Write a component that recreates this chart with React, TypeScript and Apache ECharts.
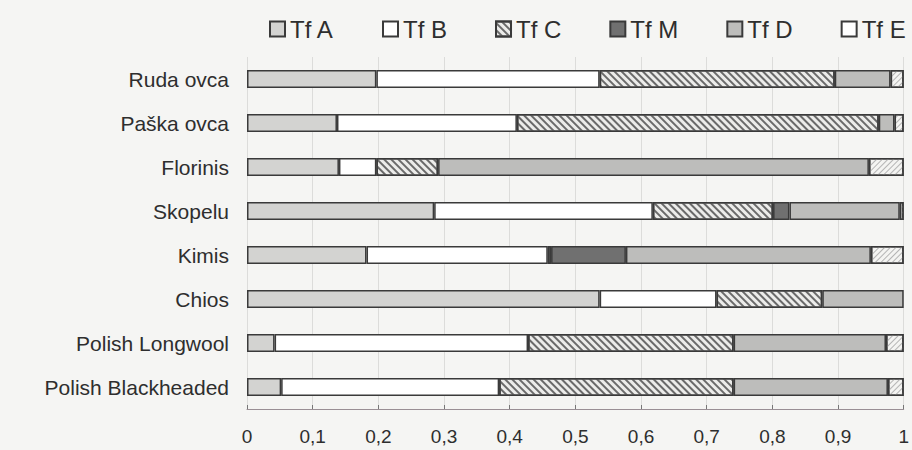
import React, { useEffect, useRef } from "react";
import * as echarts from "echarts";

const categories = [
  "Ruda ovca",
  "Paška ovca",
  "Florinis",
  "Skopelu",
  "Kimis",
  "Chios",
  "Polish Longwool",
  "Polish Blackheaded",
];
const seriesNames = ["Tf A", "Tf B", "Tf C", "Tf M", "Tf D", "Tf E"];
const tfA = [0.197, 0.137, 0.14, 0.285, 0.182, 0.537, 0.042, 0.052];
const tfB = [0.34, 0.274, 0.057, 0.333, 0.276, 0.178, 0.386, 0.332];
const tfC = [0.358, 0.551, 0.094, 0.183, 0.005, 0.161, 0.313, 0.357];
const tfM = [0, 0, 0, 0.025, 0.114, 0, 0, 0];
const tfD = [0.085, 0.024, 0.656, 0.168, 0.373, 0.124, 0.232, 0.235];
const tfE = [0.02, 0.014, 0.053, 0.006, 0.05, 0, 0.027, 0.024];
const values = [tfA, tfB, tfC, tfM, tfD, tfE];

const fills = ["#d3d3d1", "#ffffff", "#ececea", "#707070", "#bdbdbb", "#f4f4f2"];
const decals: any[] = [
  null,
  null,
  {
    symbol: "rect",
    symbolSize: 1,
    dashArrayX: [1, 0],
    dashArrayY: [1.1, 2.2],
    rotation: Math.PI / 4,
    color: "#6a6a6a",
  },
  null,
  null,
  {
    symbol: "rect",
    symbolSize: 1,
    dashArrayX: [1, 0],
    dashArrayY: [1, 2.6],
    rotation: -Math.PI / 4,
    color: "#b4b4b4",
  },
];

const FONT = "'Liberation Sans', Arial, Helvetica, sans-serif";

export default function App() {
  const ref = useRef<HTMLDivElement>(null);
  useEffect(() => {
    if (!ref.current) return;
    const chart = echarts.init(ref.current, null, { renderer: "svg" });
    chart.setOption({
      animation: false,
      backgroundColor: "#f5f5f3",
      aria: { enabled: false },
      legend: {
        data: seriesNames.map((n) =>
          n === "Tf E"
            ? { name: n, itemStyle: { color: "#ffffff", decal: "none" } }
            : n
        ),
        left: 264,
        top: 12,
        itemWidth: 15,
        itemHeight: 15,
        itemGap: 48,
        icon: "rect",
        textStyle: { fontFamily: FONT, fontSize: 24, color: "#2e2e2e" },
        selectedMode: false,
      },
      grid: { left: 247, right: 7, top: 57, bottom: 41, containLabel: false },
      xAxis: {
        type: "value",
        min: 0,
        max: 1,
        interval: 0.1,
        axisLine: { show: true, lineStyle: { color: "#9a8f95", width: 1 } },
        axisTick: { show: true, length: 4, inside: true, lineStyle: { color: "#777" } },
        splitLine: { show: true, lineStyle: { color: "#dcdcda", width: 1 } },
        axisLabel: {
          fontFamily: FONT,
          fontSize: 19,
          color: "#2e2e2e",
          margin: 18,
          formatter: (v: number) =>
            v === 0 ? "0" : v === 1 ? "1" : v.toFixed(1).replace(".", ","),
        },
      },
      yAxis: {
        type: "category",
        data: categories,
        inverse: true,
        axisLine: { show: false },
        axisTick: { show: false },
        splitLine: { show: false },
        axisLabel: {
          fontFamily: FONT,
          fontSize: 21,
          color: "#2e2e2e",
          margin: 18,
        },
      },
      series: seriesNames.map((name, i) => ({
        name,
        type: "bar",
        stack: "tf",
        barWidth: 18,
        data: values[i].map((v) => (v === 0 ? null : v)),
        itemStyle: {
          color: fills[i],
          borderColor: "#3a3a3a",
          borderWidth: 1.5,
          ...(decals[i] ? { decal: decals[i] } : {}),
        },
        emphasis: { disabled: true },
      })),
    });
    return () => chart.dispose();
  }, []);
  return (
    <div
      ref={ref}
      style={{ position: "fixed", left: 0, top: 0, width: 912, height: 450 }}
    />
  );
}
